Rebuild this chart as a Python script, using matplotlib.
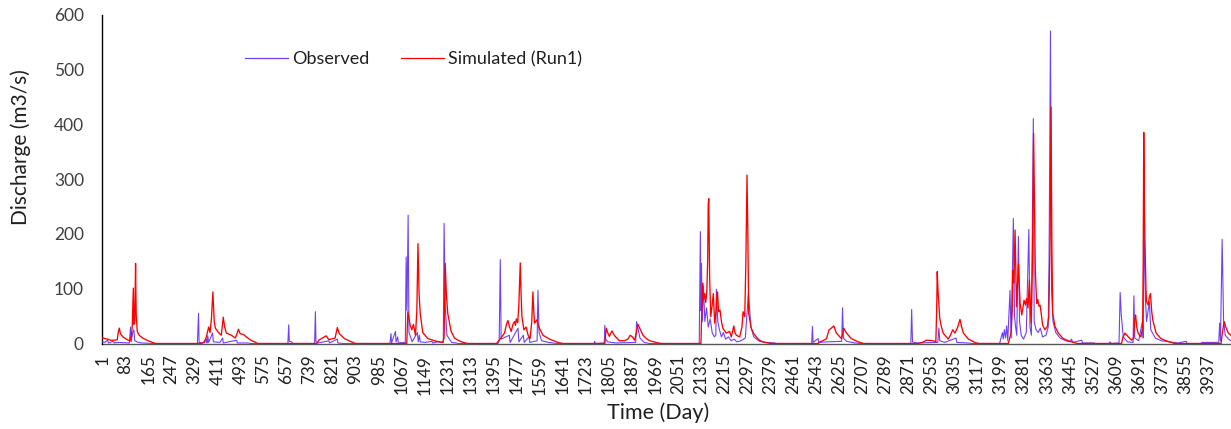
import matplotlib
matplotlib.use("Agg")
import matplotlib.pyplot as plt
from matplotlib.lines import Line2D

plt.rcParams['font.family'] = ['Lato', 'DejaVu Sans']

# ---------------- data (day, discharge m3/s) ----------------
obs_days = [1, 10, 20, 24, 40, 44, 60, 98, 102, 104, 110, 114, 117, 125, 140, 190,
            340, 344, 346, 365, 372, 374, 377, 380, 394, 397, 420, 430, 432, 480, 482, 520, 530,
            662, 665, 667, 675, 680,
            757, 760, 762, 770, 808, 810, 838, 840, 860,
            1025, 1029, 1031, 1045, 1047, 1053, 1055, 1080, 1083, 1086, 1090, 1093, 1100, 1104,
            1123, 1126, 1130, 1133, 1150, 1175, 1177, 1195, 1215, 1218, 1222, 1228, 1245, 1260, 1270,
            1410, 1414, 1418, 1421, 1450, 1453, 1481, 1484, 1500, 1503, 1520, 1523, 1549, 1552, 1556,
            1565, 1590, 1620,
            1752, 1754, 1756, 1788, 1790, 1793, 1800, 1830, 1900, 1903, 1915, 1930, 1950,
            2126, 2130, 2132, 2134, 2137, 2141, 2146, 2152, 2158, 2165, 2172, 2180, 2185, 2187, 2192,
            2198, 2205, 2212, 2220, 2230, 2240, 2250, 2260, 2275, 2290, 2301, 2310, 2320, 2340, 2360,
            2395, 2400,
            2526, 2529, 2531, 2549, 2552, 2580, 2633, 2636, 2639, 2650, 2680, 2700,
            2879, 2882, 2885, 2900, 2975, 2979, 2982, 3000, 3040, 3043, 3080, 3100,
            3195, 3205, 3208, 3212, 3216, 3220, 3224, 3232, 3236, 3244, 3248, 3252, 3256, 3262, 3266,
            3272, 3280, 3290, 3299, 3303, 3308, 3315, 3318, 3325, 3332, 3340, 3348, 3360, 3368, 3371,
            3376, 3380, 3385, 3395, 3410, 3430, 3445, 3451, 3455, 3487, 3490, 3530, 3535,
            3585, 3588, 3592, 3620, 3624, 3628, 3635, 3650, 3670, 3673, 3676, 3690, 3703, 3706, 3709,
            3714, 3718, 3728, 3733, 3749, 3770, 3800, 3830, 3859, 3862,
            3912, 3915, 3975, 3978, 3981, 3987, 3992, 3998, 4010, 4018]
obs_vals = [3, 2, 6, 1, 4, 1, 2, 1, 30, 3, 20, 25, 5, 3, 1, 0,
            0, 55, 2, 1, 8, 1, 14, 2, 19, 3, 2, 10, 1, 6, 1, 1, 0,
            0, 34, 4, 3, 0,
            0, 58, 3, 1, 5, 1, 8, 1, 0,
            0, 18, 1, 22, 3, 12, 1, 2, 158, 60, 234, 20, 10, 3,
            20, 3, 15, 3, 2, 4, 1, 3, 2, 219, 70, 15, 2, 1, 0,
            0, 5, 153, 8, 15, 2, 28, 3, 15, 2, 12, 2, 5, 97, 20,
            5, 2, 0,
            0, 4, 0, 1, 33, 8, 3, 1, 2, 40, 10, 2, 0,
            0, 204, 60, 146, 40, 105, 40, 65, 30, 45, 20, 12, 15, 99, 40,
            25, 12, 20, 8, 12, 5, 8, 3, 5, 10, 92, 30, 12, 4, 2,
            1, 0,
            0, 31, 2, 9, 2, 3, 4, 65, 10, 4, 1, 0,
            0, 62, 3, 1, 2, 28, 5, 2, 10, 2, 1, 0,
            0, 20, 8, 25, 10, 32, 5, 97, 10, 228, 50, 30, 15, 195, 40,
            15, 8, 20, 208, 30, 15, 410, 40, 25, 20, 28, 12, 15, 30, 152,
            570, 97, 40, 20, 10, 5, 3, 8, 2, 6, 1, 1, 0,
            0, 3, 0, 1, 93, 52, 12, 3, 2, 87, 10, 5, 40, 10, 222,
            80, 40, 76, 25, 10, 5, 3, 1, 4, 0,
            0, 2, 2, 37, 5, 190, 43, 15, 8, 5]

sim_days = [1, 10, 20, 30, 45, 55, 58, 62, 66, 75, 90, 100, 105, 108, 112, 114, 117, 120, 122,
            126, 133, 145, 160, 170, 180, 190,
            355, 364, 372, 380, 385, 390, 395, 400, 404, 415, 425, 432, 437, 443, 461, 475, 481, 486,
            492, 505, 514, 530, 543, 555,
            765, 772, 785, 798, 808, 830, 838, 845, 863, 888, 902,
            1085, 1089, 1097, 1103, 1109, 1116, 1121, 1125, 1129, 1133, 1142, 1160, 1190, 1213, 1218,
            1222, 1226, 1231, 1243, 1255, 1267, 1280, 1300,
            1405, 1409, 1420, 1433, 1440, 1445, 1451, 1457, 1463, 1469, 1472, 1475, 1480, 1484, 1489,
            1492, 1495, 1502, 1510, 1517, 1524, 1530, 1534, 1537, 1540, 1548, 1555, 1570, 1593, 1623,
            1640,
            1790, 1795, 1800, 1806, 1815, 1825, 1842, 1860, 1872, 1880, 1888, 1896, 1903, 1908, 1914,
            1926, 1940, 1950, 1979, 1990,
            2132, 2134, 2136, 2138, 2141, 2145, 2149, 2153, 2156, 2158, 2160, 2163, 2167, 2172, 2176,
            2181, 2186, 2189, 2191, 2195, 2200, 2205, 2210, 2222, 2234, 2240, 2246, 2249, 2253, 2258,
            2270, 2278, 2282, 2288, 2292, 2296, 2299, 2302, 2311, 2320, 2329, 2340, 2353, 2380,
            2550, 2555, 2566, 2579, 2585, 2588, 2596, 2605, 2610, 2614, 2632, 2636, 2640, 2650, 2667,
            2691, 2710,
            2905, 2920, 2935, 2959, 2968, 2971, 2973, 2976, 2982, 2988, 2994, 3012, 3020, 3028, 3036,
            3046, 3054, 3060, 3066, 3084, 3107, 3120,
            3226, 3236, 3240, 3242, 3246, 3250, 3255, 3262, 3268, 3274, 3282, 3287, 3291, 3296, 3301,
            3307, 3312, 3316, 3319, 3322, 3327, 3331, 3335, 3339, 3343, 3348, 3356, 3365, 3370, 3375,
            3378, 3381, 3384, 3392, 3404, 3421, 3439, 3457, 3470,
            3629, 3633, 3641, 3653, 3665, 3672, 3676, 3679, 3683, 3688, 3698, 3704, 3706, 3708, 3711,
            3716, 3718, 3724, 3728, 3732, 3736, 3740, 3752, 3769, 3787, 3811, 3820,
            3983, 3988, 3994, 4000, 4009, 4018]
sim_vals = [11, 9, 8, 6, 6, 7, 20, 28, 18, 12, 7, 5, 15, 30, 101, 35, 40, 146, 55,
            22, 15, 10, 6, 4, 2, 0,
            0, 3, 12, 30, 20, 45, 94, 40, 28, 20, 15, 48, 30, 19, 15, 10, 18, 26,
            18, 16, 12, 6, 3, 0,
            0, 6, 10, 14, 7, 10, 29, 18, 9, 3, 0,
            0, 58, 34, 25, 35, 15, 60, 182, 90, 55, 20, 9, 4, 2, 10,
            146, 90, 55, 22, 10, 6, 3, 0,
            0, 3, 10, 19, 35, 42, 30, 22, 35, 40, 33, 45, 38, 70, 147,
            90, 49, 25, 30, 15, 9, 40, 94, 60, 37, 43, 30, 15, 8, 2,
            0,
            0, 28, 20, 13, 23, 14, 5, 5, 8, 15, 12, 6, 22, 35, 28,
            15, 8, 5, 1, 0,
            0, 40, 70, 110, 80, 91, 75, 95, 150, 255, 264, 120, 49, 70, 91,
            37, 60, 90, 94, 58, 61, 40, 28, 19, 22, 12, 25, 32, 20, 15,
            12, 30, 58, 49, 150, 307, 200, 55, 28, 18, 12, 6, 3, 0,
            0, 3, 5, 9, 20, 25, 28, 32, 25, 19, 9, 15, 28, 19, 9,
            3, 0,
            0, 2, 6, 5, 3, 60, 131, 94, 46, 30, 19, 8, 15, 25, 19,
            30, 44, 30, 19, 8, 2, 0,
            0, 20, 60, 134, 110, 207, 67, 145, 73, 52, 79, 70, 82, 65, 116,
            37, 150, 383, 250, 134, 73, 80, 68, 70, 55, 34, 25, 31, 50, 200,
            431, 180, 55, 31, 19, 9, 5, 2, 0,
            0, 10, 19, 12, 6, 10, 45, 52, 30, 19, 12, 30, 150, 385, 220,
            97, 76, 70, 85, 91, 60, 43, 19, 9, 5, 1, 0,
            0, 20, 40, 30, 19, 15]

n_days = 4018
tick_days = list(range(1, n_days, 82))
y_ticks = [0, 100, 200, 300, 400, 500, 600]

series_labels = ["Observed", "Simulated (Run1)"]
obs_color = "#7040F8"
sim_color = "#FF0000"
text_color = "#404040"

# ---------------- figure ----------------
W, H = 1231, 429
fig = plt.figure(figsize=(W / 100, H / 100), dpi=100)
ax = fig.add_axes([102 / W, (H - 343.5) / H, (W - 102) / W, (343.5 - 14.5) / H])

ax.plot(obs_days, obs_vals, color=obs_color, lw=0.8, zorder=3, label=series_labels[0])
ax.plot(sim_days, sim_vals, color=sim_color, lw=0.95, zorder=4, label=series_labels[1])

ax.set_xlim(0.5, n_days + 0.5)
ax.set_ylim(0, 600)
ax.set_yticks(y_ticks)
ax.set_yticklabels([str(v) for v in y_ticks])
ax.set_xticks(tick_days)
ax.set_xticklabels([str(d) for d in tick_days], rotation=90, va='top', ha='center')

ax.tick_params(axis='y', length=0, pad=13, labelsize=12.5, labelcolor=text_color)
ax.tick_params(axis='x', length=0, pad=8, labelsize=12.3, labelcolor='#202020')

for s in ['top', 'right']:
    ax.spines[s].set_visible(False)
ax.spines['left'].set_color('#000000')
ax.spines['left'].set_linewidth(1.0)
ax.spines['bottom'].set_color('#595959')
ax.spines['bottom'].set_linewidth(1.0)
ax.spines['bottom'].set_zorder(2)

fig.text(21 / W, 1 - 147 / H, "Discharge (m3/s)", rotation=90, ha='center', va='center',
         fontsize=15, color='#202020')
fig.text(658 / W, 1 - 413 / H, "Time (Day)", ha='center', va='center',
         fontsize=15.5, color='#202020')

handles = [Line2D([], [], color=obs_color, lw=0.9), Line2D([], [], color=sim_color, lw=0.9)]
fig.legend(handles, series_labels, ncol=2, loc='center left',
           bbox_to_anchor=(245 / W, 1 - 59 / H), frameon=False, fontsize=13,
           handlelength=2.38, handletextpad=0.22, columnspacing=1.75,
           borderpad=0, borderaxespad=0, labelcolor='#202020')

fig.savefig("out.png", dpi=100)
